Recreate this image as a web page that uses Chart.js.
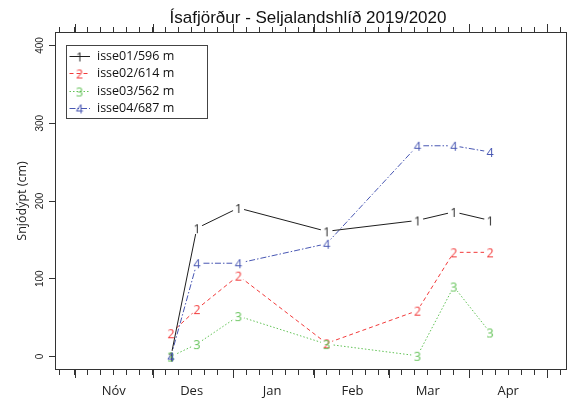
<!DOCTYPE html>
<html>
<head>
<meta charset="utf-8">
<title>Snjódýpt - Seljalandshlíð</title>
<script src="https://cdn.jsdelivr.net/npm/chart.js@4.4.1/dist/chart.umd.min.js"></script>
<style>
    html, body { margin: 0; padding: 0; background: #ffffff; }
    #chart { display: block; }
</style>
</head>
<body>
<canvas id="chart" width="573" height="401"></canvas>
<script>
/* =====================================
   Data
===================================== */
const chartTitle = "Ísafjörður - Seljalandshlíð 2019/2020";
const yAxisTitle = "Snjódýpt (cm)";

// measurement dates, days counted from 1 Nov 2019
const measureDays = [37, 47, 63, 97, 132, 146, 160];

const seriesNames = ["isse01/596 m", "isse02/614 m", "isse03/562 m", "isse04/687 m"];
const isse01 = [0, 165, 191, 161, 175, 186, 175];
const isse02 = [30, 61, 104, 17, 59, 134, 134];
const isse03 = [0, 16, 52, 16, 1, 90, 31];
const isse04 = [0, 120, 120, 145, 271, 271, 263];

// first day of each month (Okt ... Maí), days from 1 Nov 2019
const monthStarts = [-31, 0, 30, 61, 92, 121, 152, 182];
const monthLabels = ["Okt", "Nóv", "Des", "Jan", "Feb", "Mar", "Apr", "Maí"];
const yTicks = [0, 100, 200, 300, 400];


/* =====================================
   Styles
===================================== */
const seriesColors = ["#1e1e1e", "#f23a3a", "#62c256", "#4857b3"];
const seriesDash = [[], [4, 3], [1.5, 2], [6, 2, 1.5, 2]];
const allSeries = [isse01, isse02, isse03, isse04];

const xMin = -7.28;
const xMax = 189.28;

// tick every 5 days inside each month: 1st, 6th, 11th, 16th, 21st, 26th
let xTickDays = [];
monthStarts.forEach(m => {
    for (let k = 0; k < 6; k++) {
        let d = m + k * 5;
        if (d >= xMin && d <= xMax) xTickDays.push(d);
    }
});

function monthLabelFor(value) {
    for (let i = 0; i < monthStarts.length; i++) {
        if (monthStarts[i] + 15 === value) return monthLabels[i];
    }
    return "";
}


/* =====================================
   Digit markers (R style type = "b")
===================================== */
function makeDigit(text, color) {
    let c = document.createElement("canvas");
    c.width = 14;
    c.height = 16;
    let g = c.getContext("2d");
    g.font = "12.5px 'Open Sans'";
    g.fillStyle = color;
    g.textAlign = "center";
    g.textBaseline = "alphabetic";
    g.fillText(text, 7, 8 + 4.5);
    return c;
}

const digitMarks = seriesColors.map((col, i) => makeDigit(String(i + 1), col));


/* =====================================
   Datasets
===================================== */
let datasets = [];
allSeries.forEach((vals, i) => {
    let pts = measureDays.map((d, k) => ({ x: d, y: vals[k] }));
    datasets.push({
        label: seriesNames[i],
        data: pts,
        showLine: true,
        borderColor: seriesColors[i],
        borderWidth: 1,
        borderDash: seriesDash[i],
        pointRadius: 0,
        tension: 0,
        gapLine: true,
        order: 10
    });
    datasets.push({
        label: seriesNames[i] + " punktar",
        data: pts,
        showLine: false,
        pointStyle: digitMarks[i],
        pointRadius: 6,
        order: 4 - i
    });
});


/* =====================================
   Plugins
===================================== */
// leave a small gap round every point, like R does
const gapPlugin = {
    id: "gapPlugin",
    beforeDatasetDraw(chart, args) {
        let ds = chart.data.datasets[args.index];
        if (!ds.gapLine) return;
        let ctx = chart.ctx;
        ctx.save();
        ctx.beginPath();
        ctx.rect(0, 0, chart.width, chart.height);
        args.meta.data.forEach(p => {
            ctx.moveTo(p.x + 6, p.y);
            ctx.arc(p.x, p.y, 6, 0, Math.PI * 2);
        });
        ctx.clip("evenodd");
    },
    afterDatasetDraw(chart, args) {
        if (chart.data.datasets[args.index].gapLine) chart.ctx.restore();
    }
};

const framePlugin = {
    id: "framePlugin",
    afterDraw(chart) {
        const ctx = chart.ctx;
        const a = chart.chartArea;
        const xs = chart.scales.x;
        const ys = chart.scales.y;

        ctx.save();

        // box
        ctx.strokeStyle = "#333333";
        ctx.lineWidth = 1;
        ctx.strokeRect(a.left - 0.5, a.top - 0.5, a.right - a.left + 1, a.bottom - a.top + 1);

        // longer ticks at the start of each month
        ctx.beginPath();
        monthStarts.forEach(d => {
            if (d < xMin || d > xMax) return;
            let px = Math.round(xs.getPixelForValue(d)) + 0.5;
            ctx.moveTo(px, a.bottom);
            ctx.lineTo(px, a.bottom + 9);
            ctx.moveTo(px, a.top);
            ctx.lineTo(px, a.top - 9);
        });
        ctx.stroke();

        // y tick labels, turned like R
        ctx.fillStyle = "#222222";
        ctx.font = "10px 'Liberation Sans'";
        ctx.textAlign = "center";
        ctx.textBaseline = "middle";
        yTicks.forEach(v => {
            ctx.save();
            ctx.translate(40, ys.getPixelForValue(v));
            ctx.rotate(-Math.PI / 2);
            ctx.fillText(String(v), 0, 0);
            ctx.restore();
        });

        // y title
        ctx.font = "12.5px 'Open Sans'";
        ctx.save();
        ctx.translate(22, (a.top + a.bottom) / 2);
        ctx.rotate(-Math.PI / 2);
        ctx.fillText(yAxisTitle, 0, 0);
        ctx.restore();

        // main title
        ctx.fillStyle = "#111111";
        ctx.font = "17px 'Liberation Sans'";
        ctx.textBaseline = "alphabetic";
        ctx.fillText(chartTitle, 308, 22.5);

        // legend
        ctx.fillStyle = "#ffffff";
        ctx.fillRect(67, 45, 141, 73);
        ctx.strokeStyle = "#444444";
        ctx.strokeRect(66.5, 45.5, 141, 73);
        seriesNames.forEach((name, i) => {
            let rowY = Math.round(56 + i * 17.4) + 0.5;
            ctx.strokeStyle = seriesColors[i];
            ctx.setLineDash(seriesDash[i]);
            ctx.beginPath();
            ctx.moveTo(69.5, rowY);
            ctx.lineTo(90, rowY);
            ctx.stroke();
            ctx.setLineDash([]);
            ctx.drawImage(digitMarks[i], 79.5 - 7, rowY - 8);
            ctx.fillStyle = "#111111";
            ctx.font = "12.5px 'Open Sans'";
            ctx.textAlign = "left";
            ctx.textBaseline = "middle";
            ctx.fillText(name, 97, rowY);
        });

        ctx.restore();
    }
};


/* =====================================
   Chart
===================================== */
const ctx = document.getElementById("chart");

new Chart(ctx, {
    type: "scatter",
    data: { datasets: datasets },
    options: {
        responsive: false,
        animation: false,
        events: [],
        devicePixelRatio: 1,
        layout: { padding: { left: 0, right: 1, top: 0, bottom: 0 } },
        plugins: {
            legend: { display: false },
            title: { display: false },
            tooltip: { enabled: false }
        },
        scales: {
            x: {
                type: "linear",
                position: "bottom",
                min: xMin,
                max: xMax,
                border: { display: false },
                grid: { drawOnChartArea: false, tickLength: 6, color: "#333333", tickColor: "#333333" },
                afterBuildTicks: s => { s.ticks = xTickDays.map(v => ({ value: v })); },
                afterFit: s => { s.height = 32; },
                ticks: {
                    autoSkip: false,
                    maxRotation: 0,
                    minRotation: 0,
                    padding: 8,
                    color: "#222222",
                    font: { family: "'Open Sans'", size: 13 },
                    callback: value => monthLabelFor(value)
                }
            },
            x2: {
                type: "linear",
                position: "top",
                min: xMin,
                max: xMax,
                border: { display: false },
                grid: { drawOnChartArea: false, tickLength: 6, color: "#333333", tickColor: "#333333" },
                afterBuildTicks: s => { s.ticks = xTickDays.map(v => ({ value: v })); },
                afterFit: s => { s.height = 33; },
                ticks: { display: false }
            },
            y: {
                type: "linear",
                position: "left",
                min: -16,
                max: 416,
                border: { display: false },
                grid: { drawOnChartArea: false, tickLength: 7, color: "#333333", tickColor: "#333333" },
                afterBuildTicks: s => { s.ticks = yTicks.map(v => ({ value: v })); },
                afterFit: s => { s.width = 56; },
                ticks: { display: false }
            }
        }
    },
    plugins: [gapPlugin, framePlugin]
});
</script>
</body>
</html>
